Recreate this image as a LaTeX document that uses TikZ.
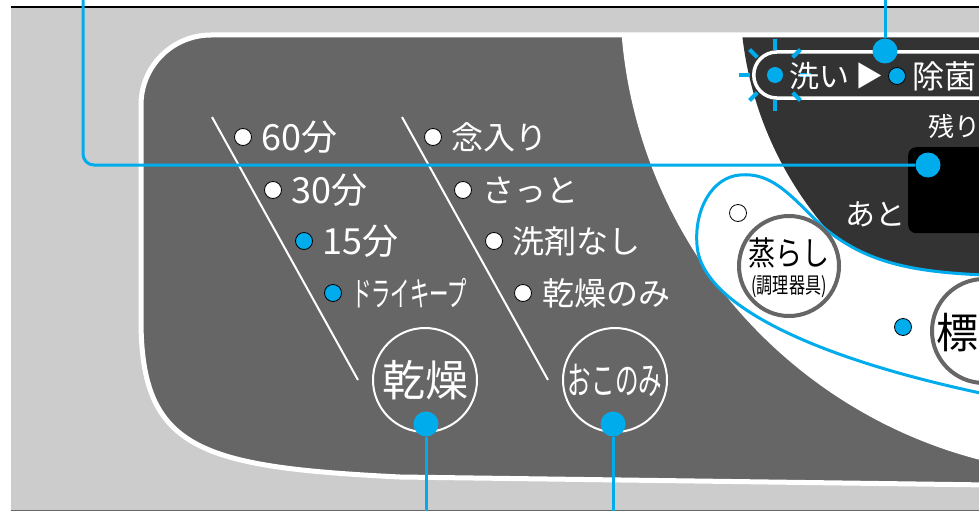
\documentclass[tikz,border=0pt]{standalone}
\usepackage{fontspec}
\setmainfont{Noto Sans CJK JP}
\usepackage{graphicx}
\usetikzlibrary{positioning}

\definecolor{panelgray}{HTML}{666666}
\definecolor{casegray}{HTML}{CCCCCC}
\definecolor{ringdark}{HTML}{333333}
\definecolor{leadblue}{RGB}{0,172,236}

\newcommand{\panelpath}{(990,485) -- (400,477) .. controls (200,467) and (141,450) .. (141,320) -- (141,105) .. controls (141,66.3) and (172.3,35) .. (211,35) -- (990,35) -- cycle}

\tikzstyle{lampoff} = [
    circle,
    draw=black,
    line width=0.8pt,
    fill=white,
    minimum size=17pt,
    inner sep=0pt
]
\tikzstyle{lampon} = [lampoff, fill=leadblue]
\tikzstyle{menutext} = [
    text=white,
    inner sep=0pt,
    font=\fontsize{32}{36}\selectfont
]
\tikzstyle{timetext} = [menutext, font=\fontsize{36}{40}\selectfont]
\tikzstyle{dryknob} = [
    circle,
    draw=white,
    line width=2pt,
    minimum size=104pt,
    inner sep=0pt,
    text=white
]
\tikzstyle{whiteknob} = [
    circle,
    draw=panelgray,
    line width=4pt,
    fill=white,
    minimum size=100pt,
    inner sep=0pt
]
\tikzstyle{leader} = [leadblue, line width=3pt]
\tikzstyle{leaderdot} = [circle, fill=leadblue, minimum size=25pt, inner sep=0pt]
\tikzstyle{slash} = [white, line width=2pt]

\begin{document}
\begin{tikzpicture}[x=1pt, y=-1pt]

\useasboundingbox (0,0) rectangle (979,511);
\fill[white] (0,0) rectangle (979,511);
\fill[casegray] (11,8) rectangle (979,511);
\draw[black, line width=2.5pt] (11,7) -- (979,7);
\draw[panelgray, line width=1.2pt] (11,510.4) -- (979,510.4);

% panel
\fill[panelgray] \panelpath;
\begin{scope}
\clip \panelpath;
\fill[white] (1100,-5) circle[radius=480pt];
\fill[ringdark] (1100,-5) circle[radius=360pt];
\end{scope}
\draw[white, line width=5pt] \panelpath;

% display
\node (display) [fill=black, rounded corners=8pt, anchor=north west,
  minimum width=100pt, minimum height=86pt, inner sep=0pt] at (908,147) {};
\node (washbar) [draw=white, line width=3.5pt, rounded corners=23pt, anchor=west,
  minimum width=258pt, minimum height=46pt, inner sep=0pt] at (752,75) {};

\begin{scope}[shift={(775,75)}]
\foreach \a in {0,45,...,315}
  \draw[leadblue, line width=4pt] (\a:25pt) -- (\a:36pt);
\end{scope}
\node (washlamp) [circle, fill=leadblue, minimum size=16pt, inner sep=0pt] at (775,75) {};

\node (wash) [menutext, font=\fontsize{30}{34}\selectfont, anchor=west] at (789,76) {洗い};
\node (playmark) [menutext, font=\fontsize{28}{32}\selectfont, anchor=west] at (855,76) {▶};
\node (sterilamp) [lampon] at (897,76) {};
\node (sterilize) [menutext, right=6pt of sterilamp] {除菌};
\node (remain) [menutext, font=\fontsize{26}{30}\selectfont, anchor=west] at (928,127) {残り};
\node (after) [menutext, font=\fontsize{30}{34}\selectfont] at (875,214) {あと};

% cooking lobe
\draw[leadblue, line width=3pt, fill=white]
  (985,275) .. controls (910,272) and (865,262) .. (823,227)
  .. controls (790,195) and (772,172) .. (740,175)
  .. controls (712,177) and (694,210) .. (697,245)
  .. controls (700,300) and (800,355) .. (985,394) -- cycle;

\node (steamlamp) [lampoff] at (738,213) {};
\node (steam) [whiteknob] at (789,266) {};
\node (steamtxt) [inner sep=0pt, font=\fontsize{33}{36}\selectfont] at (789,253) {\scalebox{0.82}[1]{蒸らし}};
\node (steamsub) [inner sep=0pt, font=\fontsize{22}{24}\selectfont] at (789,287) {\scalebox{0.73}[1]{(調理器具)}};

\node (stdlamp) [lampon] at (903,327) {};
\node (standard) [whiteknob, minimum size=104pt] at (984,331) {};
\node (stdtxt) [inner sep=0pt, anchor=west, font=\fontsize{42}{46}\selectfont] at (936,333) {標};

% dry course
\draw[slash] (212,117) -- (358,380);
\node (m60) [lampoff] at (243,137) {};
\node (t60) [timetext, right=9pt of m60] {60分};
\node (m30) [lampoff] at (273,190) {};
\node (t30) [timetext, right=9pt of m30] {30分};
\node (m15) [lampon] at (304,241) {};
\node (t15) [timetext, right=9pt of m15] {15分};
\node (mkeep) [lampon] at (333,293) {};
\node (tkeep) [menutext, right=10pt of mkeep, font=\fontsize{34}{38}\selectfont] {\scalebox{0.57}[1]{ドライキープ}};
\node (dry) [dryknob, font=\fontsize{43}{46}\selectfont] at (425,380) {乾燥};

% my choice
\draw[slash] (402,117) -- (548,380);
\node (mcare) [lampoff] at (433,137) {};
\node (tcare) [menutext, right=9pt of mcare] {念入り};
\node (mquick) [lampoff] at (463,190) {};
\node (tquick) [menutext, right=10pt of mquick] {さっと};
\node (mnodet) [lampoff] at (494,241) {};
\node (tnodet) [menutext, right=9pt of mnodet] {洗剤なし};
\node (mdryonly) [lampoff] at (523,293) {};
\node (tdryonly) [menutext, right=10pt of mdryonly] {乾燥のみ};
\node (mychoice) [dryknob, font=\fontsize{38}{40}\selectfont] at (615,380) {\scalebox{0.62}[1]{おこのみ}};

% leaders
\coordinate (leadA) at (83,0);
\node (dispdot) [leaderdot] at (928,165) {};
\draw[leader, rounded corners=11pt] (leadA) |- (dispdot);
\coordinate (leadB) at (885,0);
\node (washdot) [leaderdot] at (885,51) {};
\draw[leader] (leadB) -- (washdot);
\node (drydot) [leaderdot] at (426,424) {};
\coordinate (leadC) at (426,511);
\draw[leader] (drydot) -- (leadC);
\node (choicedot) [leaderdot] at (613,424) {};
\coordinate (leadD) at (613,511);
\draw[leader] (choicedot) -- (leadD);

\end{tikzpicture}
\end{document}
